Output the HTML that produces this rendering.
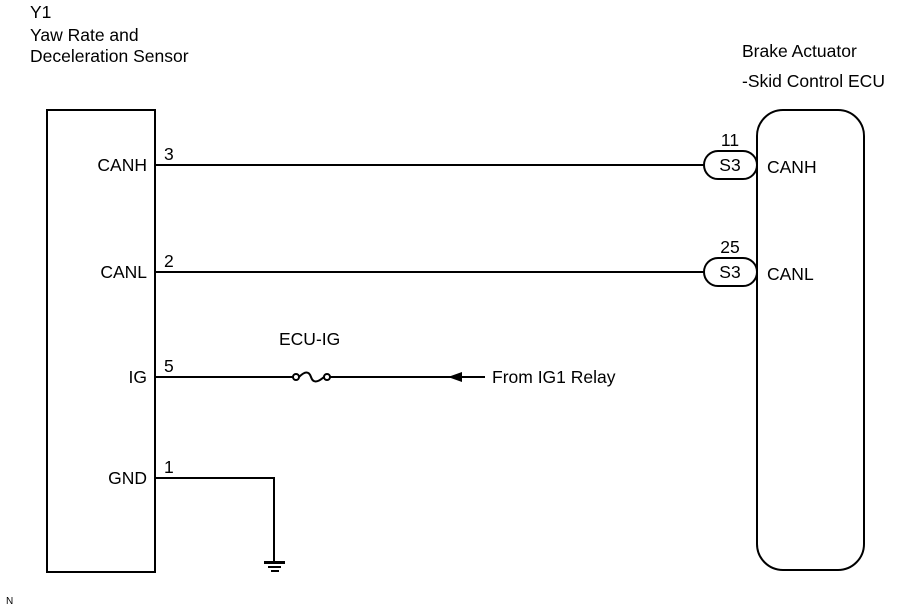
<!DOCTYPE html>
<html><head><style>body{margin:0;background:#fff}svg{display:block}text{font-family:"Liberation Sans",sans-serif;font-size:17.5px;fill:#000}</style></head>
<body>
<svg width="907" height="610" viewBox="0 0 907 610">
<g fill="none" stroke="#000" stroke-width="2">
<rect x="47" y="110" width="108" height="462"/>
<rect x="757" y="110" width="107" height="460" rx="26"/>
<line x1="155" y1="165" x2="704" y2="165"/>
<line x1="155" y1="272" x2="704" y2="272"/>
<rect x="704" y="151" width="53" height="28" rx="14"/>
<rect x="704" y="258" width="53" height="28" rx="14"/>
<line x1="155" y1="377" x2="293" y2="377"/>
<line x1="330" y1="377" x2="485" y2="377"/>
<circle cx="296" cy="377" r="3"/><circle cx="327" cy="377" r="3"/>
<path d="M299 377 C305 371 309 371 311 377 C313 383 317 383 324 377"/>
<polyline points="155,478 274,478 274,562"/>
</g>
<polygon points="448,377 462,372 462,382" fill="#000"/>
<rect x="264" y="561" width="21" height="3" fill="#000"/>
<rect x="268" y="566" width="13" height="2" fill="#000"/>
<rect x="271" y="570" width="8" height="2" fill="#000"/>
<text x="30" y="18">Y1</text>
<text x="30" y="41">Yaw Rate and</text>
<text x="30" y="62">Deceleration Sensor</text>
<text x="742" y="57">Brake Actuator</text>
<text x="742" y="87">-Skid Control ECU</text>
<text x="147" y="171" text-anchor="end">CANH</text>
<text x="147" y="278" text-anchor="end">CANL</text>
<text x="147" y="383" text-anchor="end">IG</text>
<text x="147" y="484" text-anchor="end">GND</text>
<text x="164" y="160">3</text>
<text x="164" y="267">2</text>
<text x="164" y="372">5</text>
<text x="164" y="473">1</text>
<text x="730" y="146" text-anchor="middle">11</text>
<text x="730" y="253" text-anchor="middle">25</text>
<text x="730" y="171" text-anchor="middle">S3</text>
<text x="730" y="278" text-anchor="middle">S3</text>
<text x="767" y="173">CANH</text>
<text x="767" y="280">CANL</text>
<text x="279" y="345">ECU-IG</text>
<text x="492" y="383">From IG1 Relay</text>
<text x="6" y="604" style="font-size:10px">N</text>
</svg>
</body></html>
